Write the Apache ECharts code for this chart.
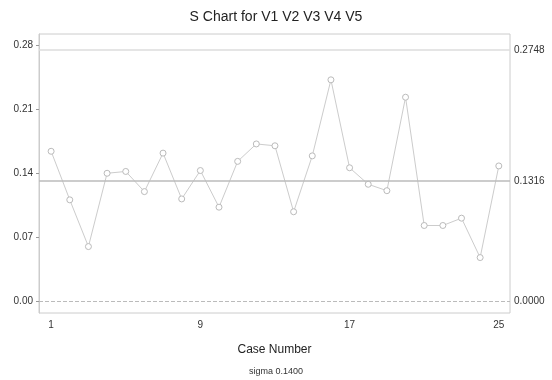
<!DOCTYPE html>
<html>
<head>
<meta charset="utf-8">
<script src="https://cdn.jsdelivr.net/npm/echarts@6/dist/echarts.min.js"></script>
<style>html,body{margin:0;padding:0;background:#fff;}#c{width:552px;height:380px;}</style>
</head>
<body>
<div id="c"></div>
<script>
const caseNumbers = [1,2,3,4,5,6,7,8,9,10,11,12,13,14,15,16,17,18,19,20,21,22,23,24,25];
const sValues = [0.164,0.111,0.060,0.140,0.142,0.120,0.162,0.112,0.143,0.103,0.153,0.172,0.170,0.098,0.159,0.242,0.146,0.128,0.121,0.223,0.083,0.083,0.091,0.048,0.148];
const ucl = 0.2748;
const centerLine = 0.1316;
const lcl = 0.0000;
const xTickValues = [1,9,17,25];
const yTickValues = [0,0.07,0.14,0.21,0.28];
const sigmaText = 'sigma 0.1400';

const chart = echarts.init(document.getElementById('c'));
const font = 'Liberation Sans, Arial, sans-serif';
chart.setOption({
  animation: false,
  backgroundColor: '#fff',
  title: [{
    text: 'S Chart for V1 V2 V3 V4 V5', left: 'center', top: 5,
    textStyle: {fontFamily: font, fontSize: 14, fontWeight: 'normal', color: '#222'}
  }, {
    text: sigmaText, left: 'center', top: 362,
    textStyle: {fontFamily: font, fontSize: 9, fontWeight: 'normal', color: '#333'}
  }],
  grid: {left: 39, right: 42, top: 34, bottom: 67, show: true, borderColor: '#ccc', borderWidth: 1},
  xAxis: {
    type: 'value', min: 0.35, max: 25.6,
    name: 'Case Number', nameLocation: 'middle', nameGap: 31,
    nameTextStyle: {fontFamily: font, fontSize: 12, color: '#222'},
    axisLine: {show: false},
    axisTick: {show: false},
    splitLine: {show: false},
    axisLabel: {customValues: xTickValues, fontFamily: font, fontSize: 10, color: '#333', margin: 7}
  },
  yAxis: {
    type: 'value', min: -0.0125, max: 0.292,
    axisLine: {show: true, lineStyle: {color: '#ccc'}},
    axisTick: {show: true, customValues: yTickValues, length: 3, lineStyle: {color: '#999'}},
    splitLine: {show: false},
    axisLabel: {customValues: yTickValues, formatter: v => v.toFixed(2), fontFamily: font, fontSize: 10, color: '#333', margin: 6}
  },
  series: [{
    type: 'line',
    data: caseNumbers.map((c, i) => [c, sValues[i]]),
    symbol: 'circle', symbolSize: 6,
    itemStyle: {color: '#fff', borderColor: '#bbb', borderWidth: 1},
    lineStyle: {color: '#ccc', width: 1},
    markLine: {
      silent: true, symbol: 'none', precision: 4,
      label: {position: 'end', distance: 4, fontFamily: font, fontSize: 10, color: '#333'},
      data: [
        {yAxis: ucl, label: {formatter: ucl.toFixed(4)}, lineStyle: {color: '#ddd', width: 1.5, type: 'solid'}},
        {yAxis: centerLine, label: {formatter: centerLine.toFixed(4)}, lineStyle: {color: '#bbb', width: 1.5, type: 'solid'}},
        {yAxis: lcl, label: {formatter: lcl.toFixed(4)}, lineStyle: {color: '#bbb', width: 1, type: 'dashed'}}
      ]
    }
  }]
});
</script>
</body>
</html>
